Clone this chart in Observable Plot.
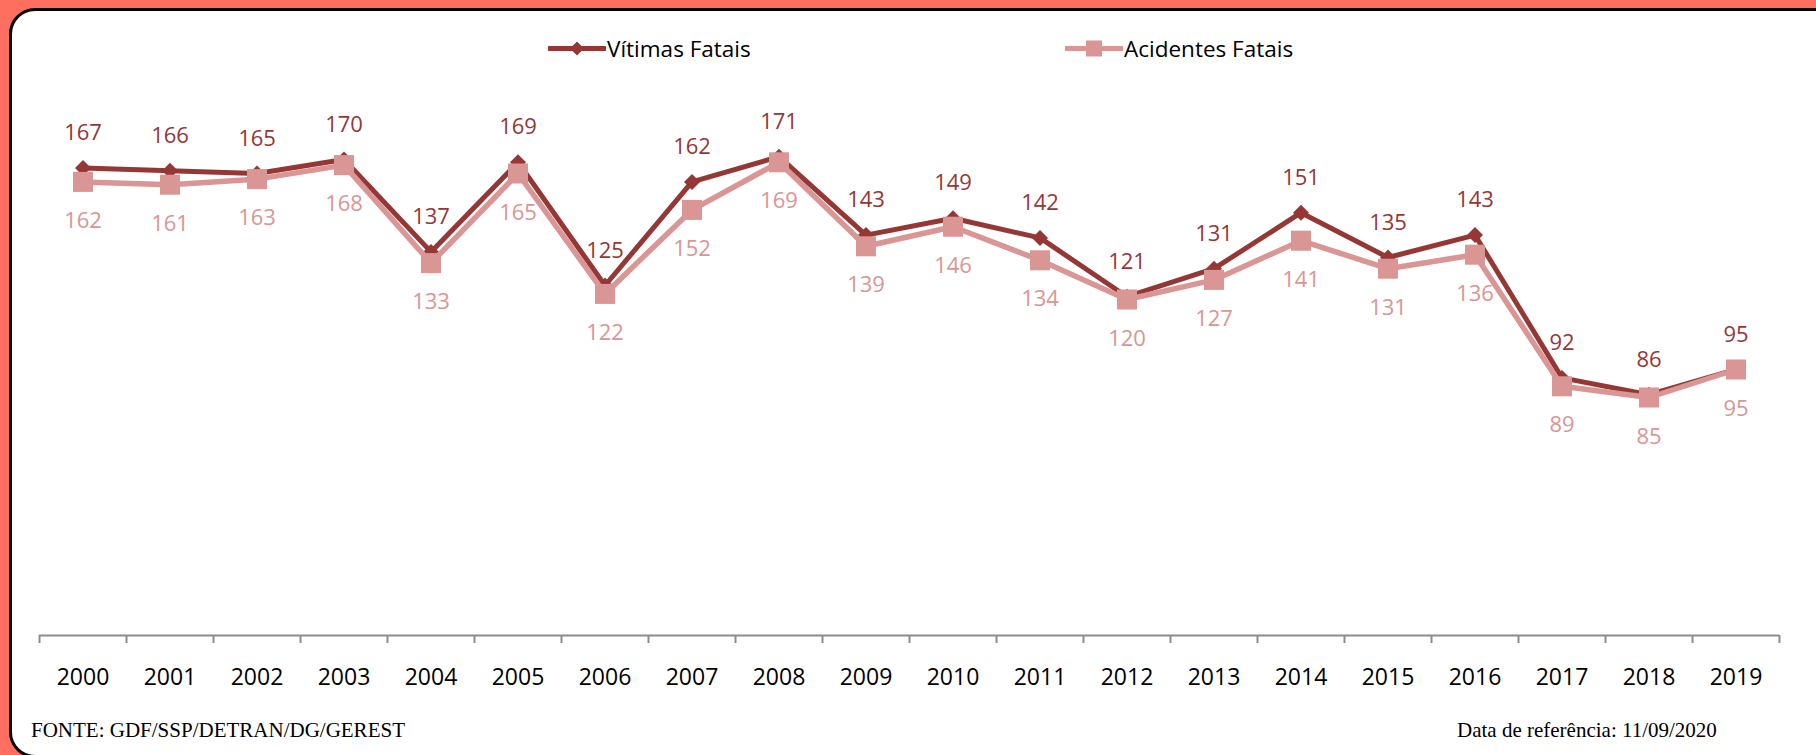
<!DOCTYPE html>
<html>
<head>
<meta charset="utf-8">
<script src="https://cdn.jsdelivr.net/npm/d3@7"></script>
<script src="https://cdn.jsdelivr.net/npm/@observablehq/plot@0.6"></script>
<style>
  html, body { margin: 0; padding: 0; }
  body { width: 1816px; height: 755px; overflow: hidden; background: #FF6F5F; position: relative; font-family: "Open Sans", sans-serif; }
  #card { position: absolute; left: 9px; top: 8px; width: 1840px; height: 750px; box-sizing: border-box; background: #fff; border: 3px solid #000; border-radius: 26px; }
  #chart svg { position: absolute; left: 0; top: 0; }
  .leg { position: absolute; top: 48px; transform: translateY(-50%); display: flex; align-items: center; font-size: 22.5px; color: #000; white-space: nowrap; }
  .leg svg { display: block; }
  .foot { position: absolute; font-family: "Liberation Serif", "Times New Roman", serif; font-size: 21px; color: #000; white-space: nowrap; }
</style>
</head>
<body>
<div id="card"></div>
<div id="chart"></div>
<div class="leg" style="left:548px">
  <svg width="58" height="20"><line x1="1" y1="10" x2="57" y2="10" stroke="#953735" stroke-width="5" stroke-linecap="round"/><path d="M29 3 L36 10 L29 17 L22 10 Z" fill="#953735"/></svg>
  <span style="margin-left:1px">Vítimas Fatais</span>
</div>
<div class="leg" style="left:1065px">
  <svg width="58" height="20"><line x1="1" y1="10" x2="57" y2="10" stroke="#D99694" stroke-width="5" stroke-linecap="round"/><rect x="21" y="2" width="16" height="16" fill="#D99694"/></svg>
  <span style="margin-left:1px">Acidentes Fatais</span>
</div>
<div class="foot" style="left:31px; top:718px">FONTE: GDF/SSP/DETRAN/DG/GEREST</div>
<div class="foot" style="left:1457px; top:718px">Data de referência: 11/09/2020</div>
<script>
const years = [2000, 2001, 2002, 2003, 2004, 2005, 2006, 2007, 2008, 2009, 2010, 2011, 2012, 2013, 2014, 2015, 2016, 2017, 2018, 2019];
const vitimas = [167, 166, 165, 170, 137, 169, 125, 162, 171, 143, 149, 142, 121, 131, 151, 135, 143, 92, 86, 95];
const acidentes = [162, 161, 163, 168, 133, 165, 122, 152, 169, 139, 146, 134, 120, 127, 141, 131, 136, 89, 85, 95];

const dark = "#953735";
const light = "#D99694";

const vData = years.map((y, i) => ({year: y, value: vitimas[i]}));
const aData = years.map((y, i) => ({year: y, value: acidentes[i]}));
const boundaries = years.map(y => y - 0.5).concat([years[years.length - 1] + 0.5]);

const chart = Plot.plot({
  width: 1816,
  height: 755,
  marginLeft: 39,
  marginRight: 37,
  marginTop: 75,
  marginBottom: 120,
  x: {type: "linear", domain: [years[0] - 0.5, years[years.length - 1] + 0.5], label: null},
  y: {domain: [0, 200], axis: null},
  style: {background: "transparent", fontFamily: "'Open Sans', sans-serif", overflow: "visible"},
  marks: [
    Plot.ruleY([0], {stroke: "#8c8c8c", strokeWidth: 2}),
    Plot.axisX(boundaries, {tickSize: 8, tickFormat: () => "", stroke: "#8c8c8c", strokeWidth: 2, label: null}),
    Plot.axisX(years, {tickSize: 0, tickPadding: 33, tickFormat: d => String(d), fontSize: 23, fill: "#000", label: null}),
    Plot.line(vData, {x: "year", y: "value", stroke: dark, strokeWidth: 5, strokeLinejoin: "round"}),
    Plot.dot(vData, {x: "year", y: "value", symbol: "diamond2", r: 7.2, fill: dark}),
    Plot.line(aData, {x: "year", y: "value", stroke: light, strokeWidth: 5.5, strokeLinejoin: "round"}),
    Plot.dot(aData, {x: "year", y: "value", symbol: "square", r: 11.3, fill: light}),
    Plot.text(vData, {x: "year", y: "value", text: d => String(d.value), dy: -35, fill: dark, fontSize: 22}),
    Plot.text(aData, {x: "year", y: "value", text: d => String(d.value), dy: 39, fill: light, fontSize: 22})
  ]
});
document.getElementById("chart").appendChild(chart);
</script>
</body>
</html>
